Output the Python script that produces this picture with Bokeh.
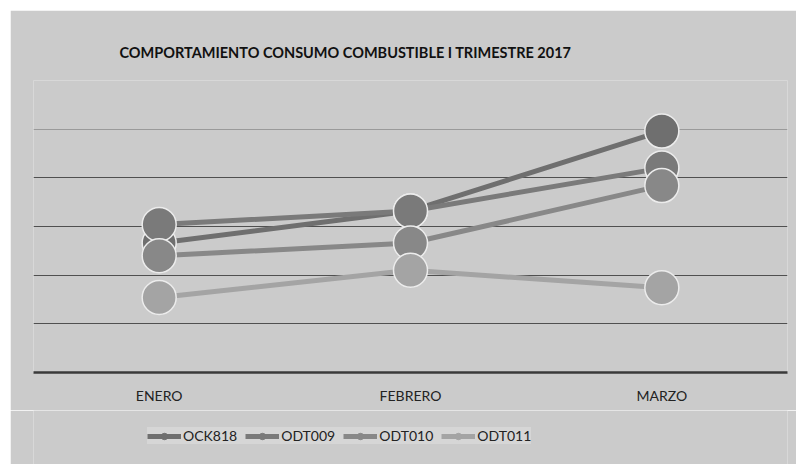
from bokeh.plotting import figure
from bokeh.models import (FactorRange, Range1d, Legend, LegendItem, FixedTicker,
                          Title, ColumnDataSource)
from bokeh.layouts import column
from bokeh.embed import file_html
from bokeh.resources import INLINE

# ---- data ----
months = ["ENERO", "FEBRERO", "MARZO"]
series_names = ["OCK818", "ODT009", "ODT010", "ODT011"]
OCK818 = [133, 166, 248]
ODT009 = [152, 166, 210]
ODT010 = [120, 133, 192]
ODT011 = [77, 105, 87]
title_text = "COMPORTAMIENTO CONSUMO COMBUSTIBLE I TRIMESTRE 2017"
y_ticks = [0, 50, 100, 150, 200]
y_faint_ticks = [250, 300]

series_values = [OCK818, ODT009, ODT010, ODT011]
colors = ["#6f6f6f", "#7a7a7a", "#888888", "#a4a4a4"]

BG = "#cbcbcb"
FONT = "Lato"

p = figure(width=786, height=400, x_range=FactorRange(*months, range_padding=0),
           y_range=Range1d(0, 300), output_backend="svg", toolbar_location=None,
           min_border_left=23, min_border_right=9, min_border_top=70,
           min_border_bottom=38, background_fill_color=BG, border_fill_color=BG,
           outline_line_color=None)

p.title = Title(text=title_text, text_font=FONT, text_font_size="14.5px",
                text_font_style="bold", text_color="#111111", align="left",
                offset=86, standoff=39)

# axes
p.yaxis.visible = False
p.xaxis.axis_line_color = "#3a3a3a"
p.xaxis.axis_line_width = 2.5
p.xaxis.major_tick_line_color = None
p.xaxis.minor_tick_line_color = None
p.xaxis.major_label_text_font = FONT
p.xaxis.major_label_text_font_size = "14px"
p.xaxis.major_label_text_color = "#222222"
p.xaxis.major_label_standoff = 8

p.xgrid.grid_line_color = None
p.ygrid.ticker = FixedTicker(ticks=y_ticks, minor_ticks=y_faint_ticks)
p.ygrid.grid_line_color = "#505050"
p.ygrid.grid_line_width = 1.2
p.ygrid.minor_grid_line_color = "#9a9a9a"
p.ygrid.minor_grid_line_width = 1

for name, vals, col in zip(series_names, series_values, colors):
    src = ColumnDataSource(dict(x=months, y=vals))
    p.line("x", "y", source=src, line_color=col, line_width=5)
    p.scatter("x", "y", source=src, size=34, fill_color=col,
              line_color="#ececec", line_width=1.5)

# ---- legend strip (separate figure directly below the chart) ----
lg = figure(width=786, height=54, x_range=Range1d(0, 1), y_range=Range1d(0, 1),
            output_backend="svg", toolbar_location=None,
            x_axis_location=None, y_axis_location=None,
            min_border_left=0, min_border_right=0, min_border_top=0,
            min_border_bottom=0, background_fill_color=BG, border_fill_color=BG,
            outline_line_color=None)
lg.grid.visible = False

nan_x = [float("nan")]
items = []
for name, col in zip(series_names, colors):
    lr = lg.line(x=nan_x, y=nan_x, line_color=col, line_width=5)
    kr = lg.scatter(x=nan_x, y=nan_x, size=10, fill_color=col, line_color=col)
    items.append(LegendItem(label=name, renderers=[lr, kr]))

legend = Legend(items=items, orientation="horizontal", location=(114, 20),
                label_text_font=FONT, label_text_font_size="14px",
                label_text_color="#222222", background_fill_color="#d6d6d6",
                background_fill_alpha=1, border_line_color=None,
                glyph_width=34, glyph_height=16, spacing=8, padding=9,
                margin=0, label_standoff=2)
lg.add_layout(legend)

layout = column(p, lg, spacing=0, margin=(10, 0, 0, 10))
open("out.html", "w").write(file_html(layout, INLINE))
